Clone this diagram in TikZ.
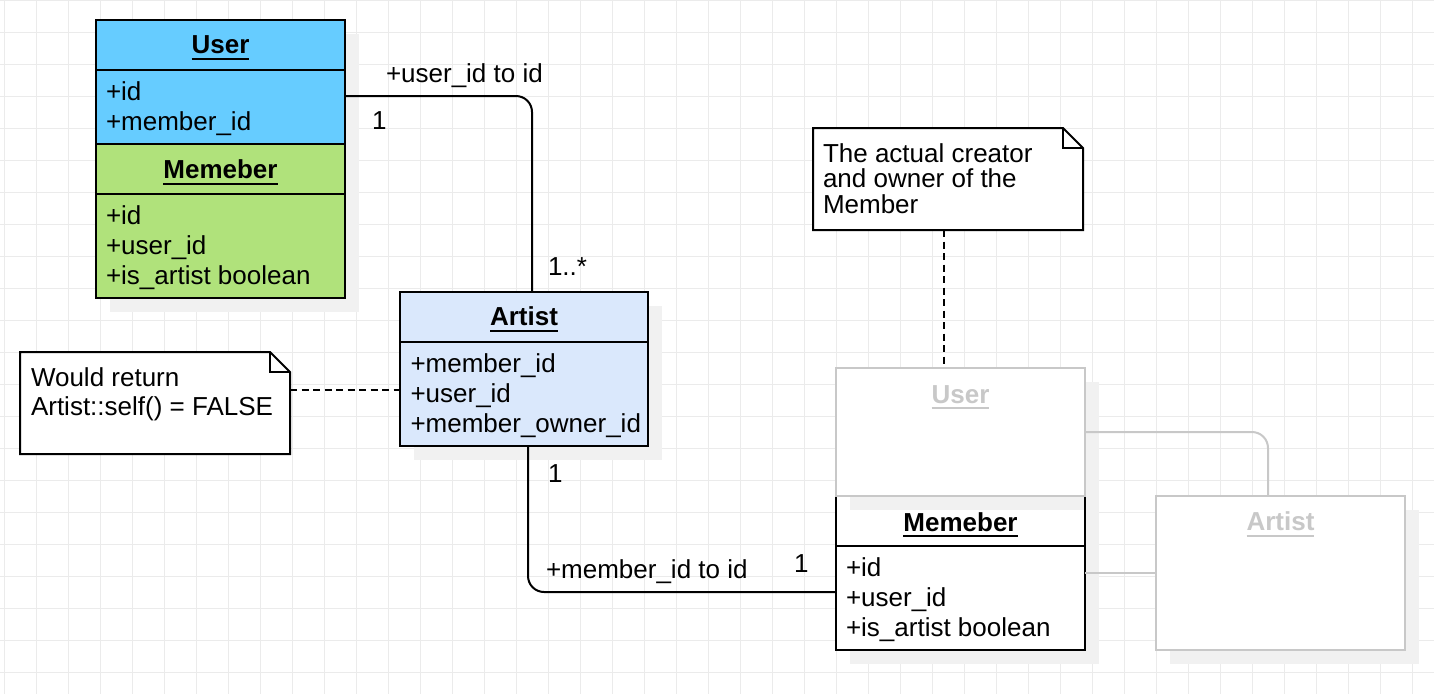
\documentclass[tikz,border=0pt]{standalone}
\usepackage{fontspec}
\setmainfont{Liberation Sans}
\usetikzlibrary{calc}
\definecolor{gridc}{RGB}{235,235,235}
\definecolor{shadowc}{RGB}{241,241,241}
\definecolor{userblue}{RGB}{102,204,255}
\definecolor{memgreen}{RGB}{176,226,123}
\definecolor{artblue}{RGB}{218,232,252}
\definecolor{ghost}{RGB}{200,200,200}
\newcommand\ulword[1]{{\setbox0\hbox{#1}\rlap{\rule[-6pt]{\wd0}{2pt}}\box0}}
\begin{document}
\begin{tikzpicture}[x=1pt,y=1pt,
  every node/.style={font=\fontsize{26pt}{30pt}\selectfont, inner sep=0pt, outer sep=0pt},
  box/.style={draw=black, line width=2pt, anchor=north west, inner sep=0pt, outer sep=0pt},
  ghostbox/.style={box, draw=ghost, fill=white},
  notebox/.style={draw=none, anchor=north west, inner sep=0pt, outer sep=0pt},
  noteline/.style={draw=black, line width=2pt, fill=white},
  txt/.style={anchor=base west, text=black},
  hdr/.style={anchor=base, font=\fontsize{26pt}{30pt}\selectfont\bfseries, text=black},
  ghosthdr/.style={hdr, text=ghost},
  divider/.style={draw=black, line width=2pt},
  conn/.style={draw=black, line width=2pt, rounded corners=16pt},
  dashc/.style={draw=black, line width=2pt, dash pattern=on 7pt off 4.5pt},
  ghostconn/.style={draw=ghost, line width=2pt, rounded corners=16pt},
  shadowbox/.style={fill=shadowc, draw=none},
  gridline/.style={draw=gridc, line width=1pt}]

% background and grid
\useasboundingbox (0,0) rectangle (1434,-694);
\fill[white] (0,0) rectangle (1434,-694);
\foreach \i in {0,...,44} \draw[gridline] (4.5+32*\i,0) -- (4.5+32*\i,-694);
\foreach \j in {0,...,21} \draw[gridline] (0,-32*\j) -- (1434,-32*\j);

% shadows
\fill[shadowbox] (110,-34) rectangle (359,-312);
\fill[shadowbox] (414,-306) rectangle (662,-460);
\fill[shadowbox] (850,-382) rectangle (1099,-510);
\fill[shadowbox] (850,-510) rectangle (1099,-664);
\fill[shadowbox] (1170,-510) rectangle (1419,-664);

% User / Memeber stack
\node[box, fill=userblue, minimum width=249pt, minimum height=124pt] (user) at (96,-20) {};
\draw[divider] ([yshift=-50pt]user.north west) -- ([yshift=-50pt]user.north east);
\node[box, fill=memgreen, minimum width=249pt, minimum height=154pt] (mem1) at (96,-144) {};
\draw[divider] ([yshift=-50pt]mem1.north west) -- ([yshift=-50pt]mem1.north east);

% Artist
\node[box, fill=artblue, minimum width=248pt, minimum height=154pt] (artist) at (400,-292) {};
\draw[divider] ([yshift=-50pt]artist.north west) -- ([yshift=-50pt]artist.north east);

% Notes
\node[notebox, minimum width=270pt, minimum height=102pt] (note1) at (20,-352) {};
\draw[noteline] (note1.north west) -- ([xshift=-20pt]note1.north east) -- ([yshift=-20pt]note1.north east) -- (note1.south east) -- (note1.south west) -- cycle;
\draw[noteline, fill=none] ([xshift=-20pt]note1.north east) |- ([yshift=-20pt]note1.north east);

\node[notebox, minimum width=270pt, minimum height=102pt] (note2) at (813,-128) {};
\draw[noteline] (note2.north west) -- ([xshift=-20pt]note2.north east) -- ([yshift=-20pt]note2.north east) -- (note2.south east) -- (note2.south west) -- cycle;
\draw[noteline, fill=none] ([xshift=-20pt]note2.north east) |- ([yshift=-20pt]note2.north east);

% right Memeber
\node[box, fill=white, minimum width=249pt, minimum height=154pt] (mem2) at (836,-496) {};
\draw[divider] ([yshift=-50pt]mem2.north west) -- ([yshift=-50pt]mem2.north east);
\fill[shadowc] (850,-497) rectangle (1084,-510);

% ghost boxes
\node[ghostbox, minimum width=249pt, minimum height=128pt] (guser) at (836,-368) {};
\node[ghostbox, minimum width=249pt, minimum height=154pt] (gartist) at (1156,-496) {};

% connectors
\draw[conn] ([yshift=-14pt]user.east) -| ([xshift=8pt]artist.north);
\draw[conn] ([xshift=4pt]artist.south) |- ([yshift=-19pt]mem2.west);
\draw[dashc] ([yshift=13pt]note1.east) -- ([yshift=-21pt]artist.west);
\draw[dashc] ([xshift=-4pt]note2.south) -- ([xshift=-16.5pt]guser.north);
\draw[ghostconn] (guser.east) -| ([xshift=-12.5pt]gartist.north);
\draw[ghostconn] (mem2.east) -- (gartist.west);

% texts: User / Memeber stack
\node[hdr] (userh) at (220.5,-53.5) {\ulword{User}};
\node[txt] (ua1) at (106,-100.5) {+id};
\node[txt] (ua2) at (106,-130.5) {+member\_id};
\node[hdr] (mem1h) at (220.5,-178.5) {\ulword{Memeber}};
\node[txt] (ma1) at (106,-224) {+id};
\node[txt] (ma2) at (106,-254) {+user\_id};
\node[txt] (ma3) at (106,-284) {+is\_artist boolean};

% Artist
\node[hdr] (arth) at (524,-325.5) {\ulword{Artist}};
\node[txt] (aa1) at (410.5,-372.2) {+member\_id};
\node[txt] (aa2) at (410.5,-402.2) {+user\_id};
\node[txt] (aa3) at (410.5,-432.2) {+member\_owner\_id};

% notes text
\node[txt] (n1a) at (31,-386.2) {Would return};
\node[txt] (n1b) at (31,-415.5) {Artist::self() = FALSE};
\node[txt] (n2a) at (823,-162.2) {The actual creator};
\node[txt] (n2b) at (823,-187.5) {and owner of the};
\node[txt] (n2c) at (823,-213.5) {Member};

% right side
\node[ghosthdr] (guserh) at (960.5,-403.2) {\ulword{User}};
\node[hdr] (mem2h) at (960.5,-531.2) {\ulword{Memeber}};
\node[txt] (m2a1) at (846,-576) {+id};
\node[txt] (m2a2) at (846,-606) {+user\_id};
\node[txt] (m2a3) at (846,-636) {+is\_artist boolean};
\node[ghosthdr] (gartisth) at (1280.5,-530.5) {\ulword{Artist}};

% connector labels
\node[txt] (l1) at (386,-82.2) {+user\_id to id};
\node[txt] (l2) at (372,-129.8) {1};
\node[txt] (l3) at (548,-275.5) {1..*};
\node[txt] (l4) at (548,-482.2) {1};
\node[txt] (l5) at (546,-578.8) {+member\_id to id};
\node[txt] (l6) at (794,-572.8) {1};
\end{tikzpicture}
\end{document}
